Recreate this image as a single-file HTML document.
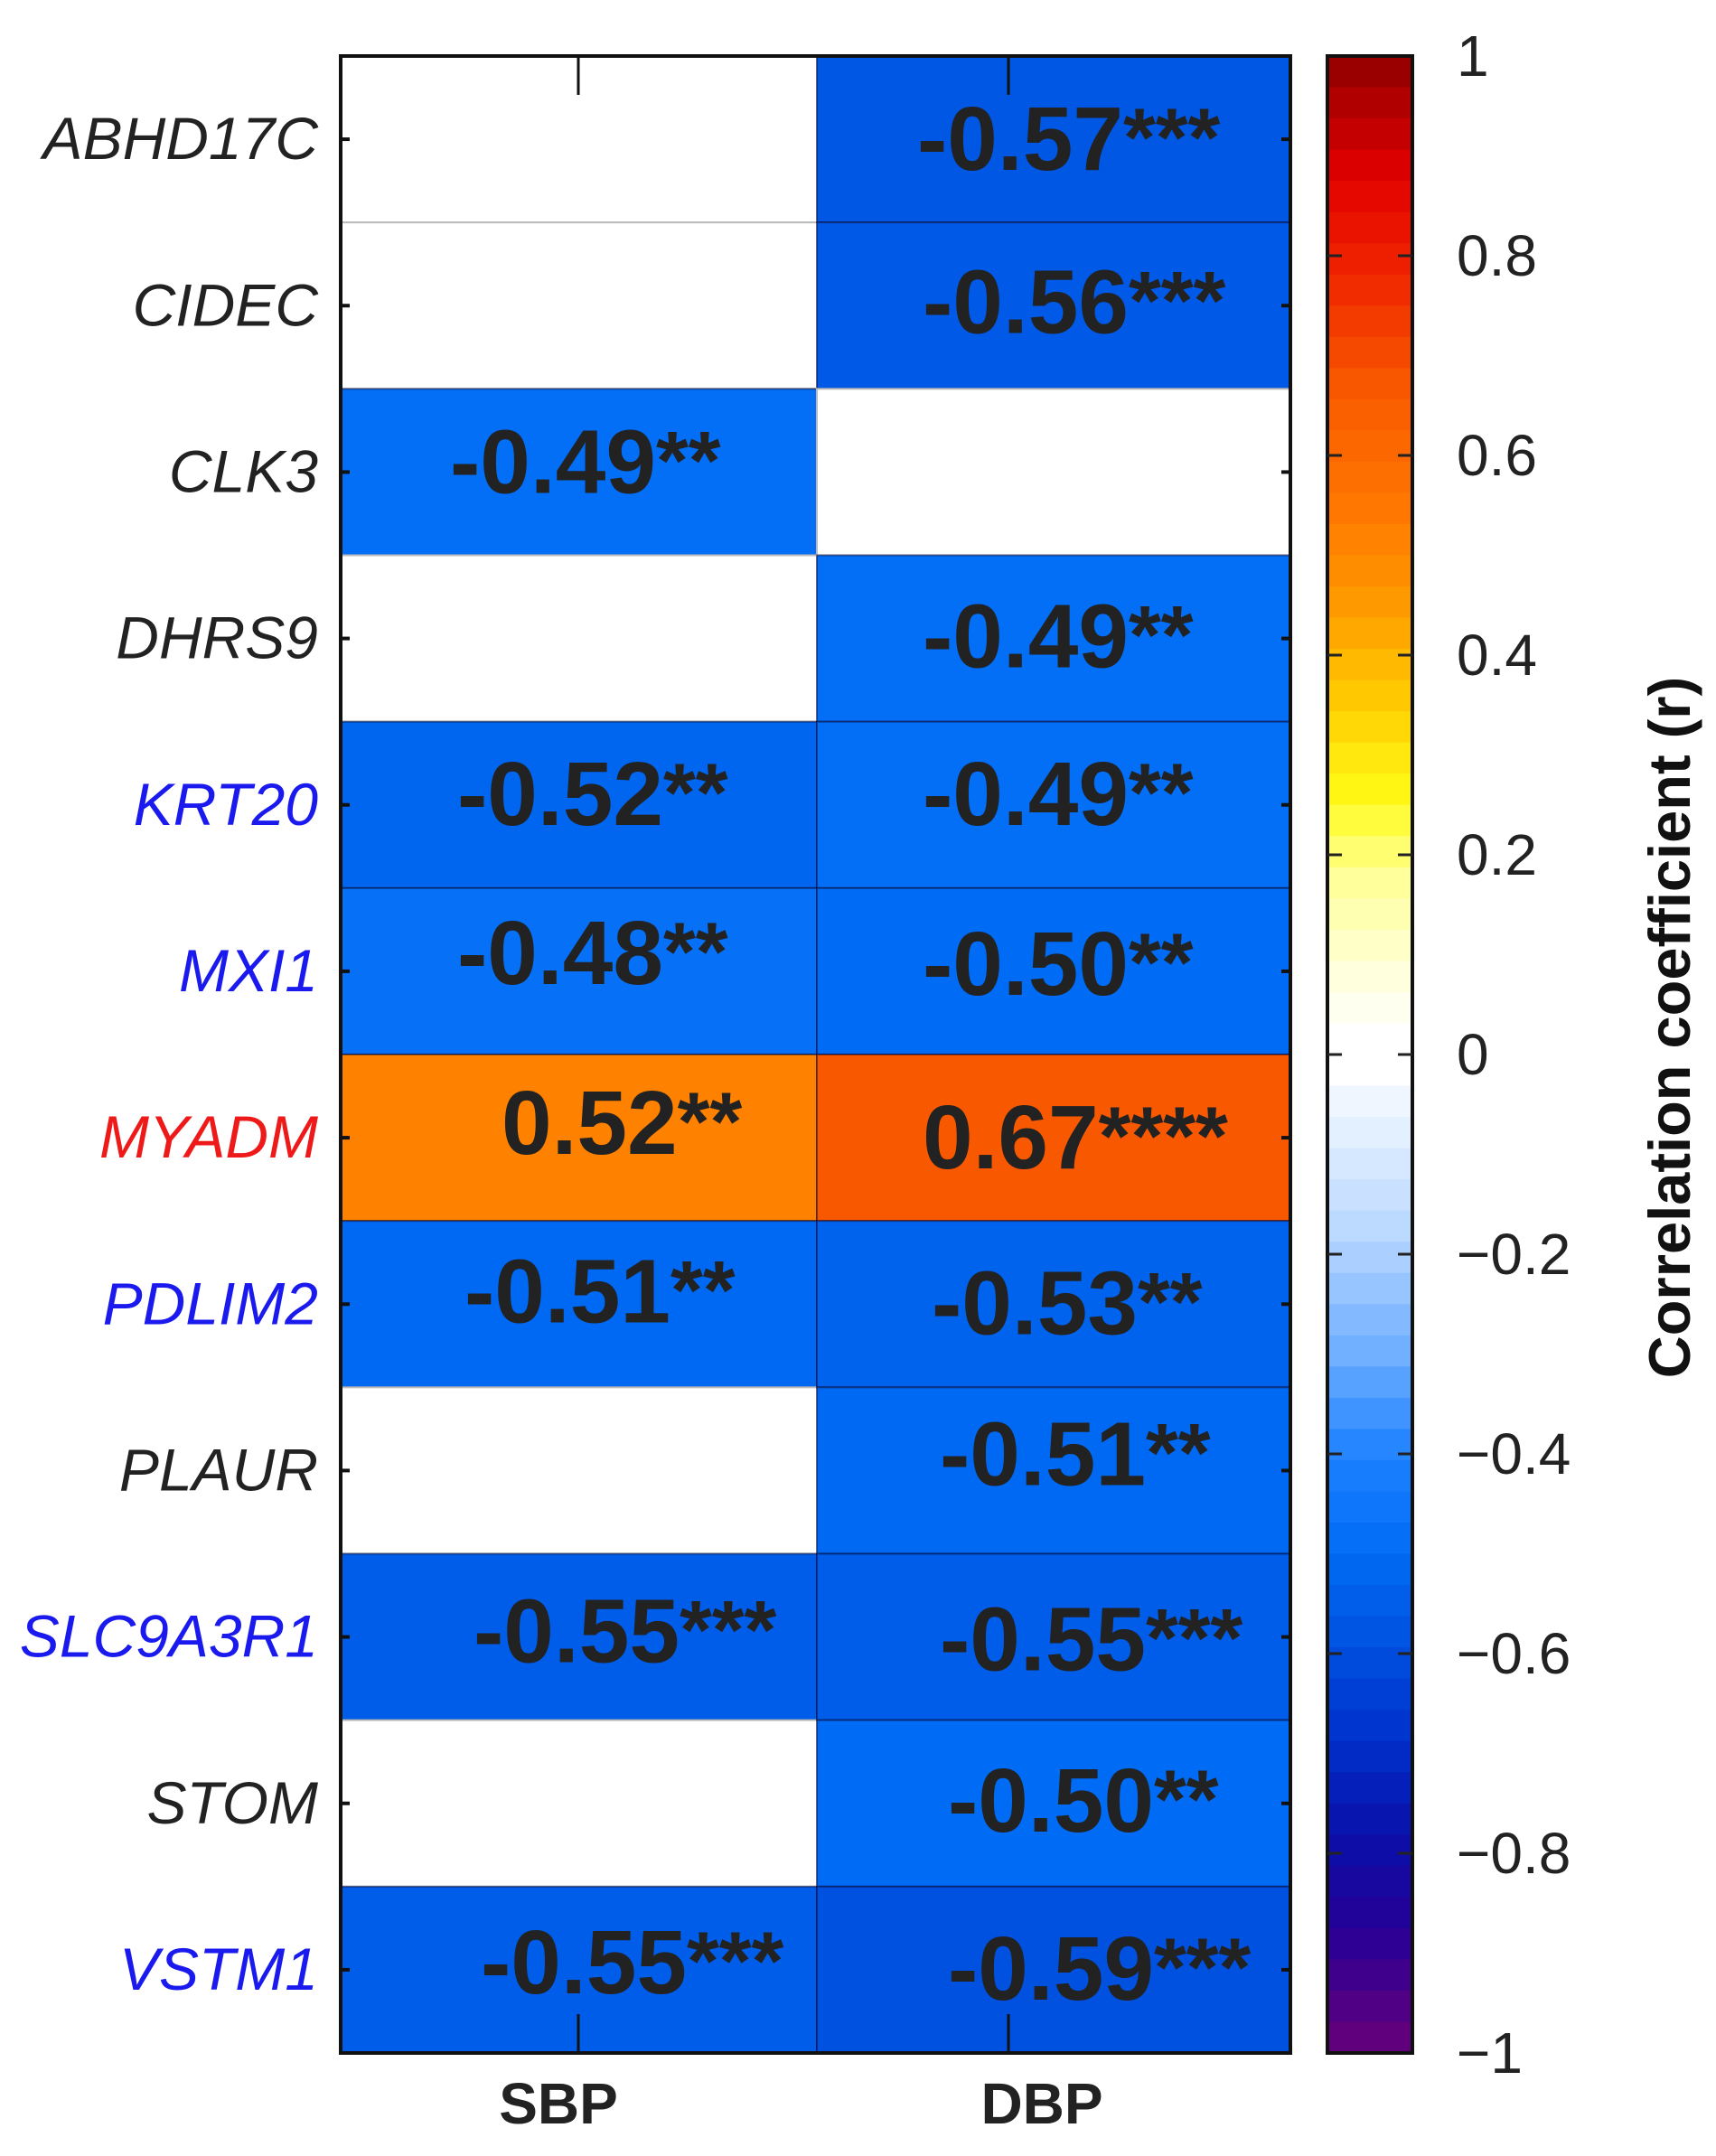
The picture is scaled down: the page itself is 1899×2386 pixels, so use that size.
<!DOCTYPE html>
<html><head><meta charset="utf-8">
<style>
html,body{margin:0;padding:0;background:#fff;}
svg{display:block;}
</style></head>
<body>
<svg id="chart" width="1899" height="2386" viewBox="0 0 1899 2386" xmlns="http://www.w3.org/2000/svg">
<g id="cells"></g>
<g id="labels"></g>
<g id="rowlabels"></g>
<g id="cbar"></g>
<text x="0" y="0" transform="translate(1870,1137) rotate(-90)" text-anchor="middle" font-family="Liberation Sans, sans-serif" font-weight="bold" font-size="65" fill="#111">Correlation coefficient (r)</text>
</svg>
<script>
const genes = ["ABHD17C","CIDEC","CLK3","DHRS9","KRT20","MXI1","MYADM","PDLIM2","PLAUR","SLC9A3R1","STOM","VSTM1"];
const geneColors = ["#222","#222","#222","#222","#1a1aee","#1a1aee","#ee1a1a","#1a1aee","#222","#1a1aee","#222","#1a1aee"];
const columns = ["SBP","DBP"];
const sbpValues = [null,null,-0.49,null,-0.52,-0.48,0.52,-0.51,null,-0.55,null,-0.55];
const dbpValues = [-0.57,-0.56,null,-0.49,-0.49,-0.50,0.67,-0.53,-0.51,-0.55,-0.50,-0.59];
const sbpStars = ["","","**","","**","**","**","**","","***","","***"];
const dbpStars = ["***","***","","**","**","**","****","**","**","***","**","***"];
const cbarTicks = [1,0.8,0.6,0.4,0.2,0,-0.2,-0.4,-0.6,-0.8,-1];

const NS = "http://www.w3.org/2000/svg";
const L = 377, R = 1428, T = 62, B = 2272, MID = 904;
const rowH = (B - T) / genes.length;
const colX = [L, MID], colW = [MID - L, R - MID];
const cbL = 1469, cbR = 1563;
// label layout offsets (pixels relative to cell left / row centre)
const sbpDx = [0,0,121,0,129,129,178,137,0,147,0,155];
const dbpDx = [111,117,0,117,117,117,117,127,136,136,145,145];
const sbpDy = [0,0,-13,0,-14,-22,-18,-16,0,-8,0,-10];
const dbpDy = [-2,-6,0,-4,-14,-10,-2,-3,-20,1,-5,-3];

function yVal(v){ return T + (1 - v) / 2 * (B - T); }
function rowY(i){ return T + i * rowH; }

const stops = [
 [-1,[106,0,120]],[-0.88,[40,0,150]],[-0.78,[10,16,170]],[-0.68,[0,50,205]],[-0.58,[0,84,226]],
 [-0.5,[0,108,245]],[-0.4,[30,130,255]],[-0.3,[110,175,255]],[-0.18,[185,215,255]],[-0.06,[235,244,255]],
 [0,[255,255,255]],[0.06,[255,255,235]],[0.18,[255,255,150]],[0.26,[255,250,20]],[0.36,[255,200,0]],
 [0.46,[255,150,0]],[0.55,[255,118,0]],[0.67,[248,88,0]],[0.8,[238,30,0]],[0.88,[225,0,0]],[1,[145,0,0]]];
function cmap(v){
  for(let i=0;i<stops.length-1;i++){
    const [a,ca]=stops[i],[b,cb]=stops[i+1];
    if(v>=a && v<=b){const t=(v-a)/(b-a);
      return "rgb("+ca.map((c,k)=>Math.round(c+(cb[k]-c)*t)).join(",")+")";}
  }
  return "#fff";
}
function mk(tag, attrs, parent){
  const e=document.createElementNS(NS,tag);
  for(const k in attrs) e.setAttribute(k,attrs[k]);
  parent.appendChild(e); return e;
}
const svg=document.getElementById("chart");
const cells=document.getElementById("cells"), labels=document.getElementById("labels"), rl=document.getElementById("rowlabels"), cbar=document.getElementById("cbar");
const series=[sbpValues,dbpValues], stars=[sbpStars,dbpStars], dxs=[sbpDx,dbpDx], dys=[sbpDy,dbpDy];

for(let c=0;c<2;c++){
  for(let i=0;i<genes.length;i++){
    const v=series[c][i];
    const r=mk("rect",{x:colX[c],y:rowY(i),width:colW[c],height:rowH,fill:v===null?"#fff":cmap(v),stroke:v===null?"#bbb":"rgba(0,0,40,0.45)","stroke-width":2},cells);
    
    
    if(v!==null){
      const t=mk("text",{x:colX[c]+dxs[c][i],y:rowY(i)+rowH/2+36+dys[c][i],"font-family":"Liberation Sans, sans-serif","font-weight":"bold","font-size":100,fill:"#222"},labels);
      
      
      const num=mk("tspan",{},t);
      num.textContent=(v<0?"-":"")+Math.abs(v).toFixed(2);
      const st=mk("tspan",{"font-size":92,dy:-4},t);
      st.textContent=stars[c][i];
    }
  }
}
for(let i=0;i<genes.length;i++){
  const cy=rowY(i)+rowH/2;
  const t=mk("text",{x:352,y:cy+22,"text-anchor":"end","font-family":"Liberation Sans, sans-serif","font-style":"italic","font-size":66,fill:geneColors[i]},rl);
  t.textContent=genes[i];
  
  
  mk("line",{x1:L,x2:L+10,y1:cy,y2:cy,stroke:"#111","stroke-width":4},svg);
  mk("line",{x1:R-10,x2:R,y1:cy,y2:cy,stroke:"#111","stroke-width":4},svg);
}
const fr=mk("rect",{x:L,y:T,width:R-L,height:B-T,fill:"none",stroke:"#111","stroke-width":4},svg);


const tickX=[640,1116], labX=[618,1153];
for(let c=0;c<2;c++){
  mk("line",{x1:tickX[c],x2:tickX[c],y1:T,y2:T+43,stroke:"#111","stroke-width":3},svg);
  mk("line",{x1:tickX[c],x2:tickX[c],y1:B-43,y2:B,stroke:"#111","stroke-width":3},svg);
  const t=mk("text",{x:labX[c],y:2350,"text-anchor":"middle","font-family":"Liberation Sans, sans-serif","font-weight":"bold","font-size":64,fill:"#222"},svg);
  t.textContent=columns[c];
  
  
}
const nBands=64, bh=(B-T)/nBands;
for(let k=0;k<nBands;k++){
  const v=1-(k+0.5)*2/nBands;
  const r=mk("rect",{x:cbL,y:T+k*bh,width:cbR-cbL,height:bh+0.6,fill:Math.abs(v)<0.03?"#fff":cmap(v)},cbar);
  
  
}
mk("rect",{x:cbL,y:T,width:cbR-cbL,height:B-T,fill:"none",stroke:"#111","stroke-width":4},cbar);
for(const v of cbarTicks){
  const y=yVal(v);
  if(v!==1 && v!==-1){
    mk("line",{x1:cbL,x2:cbL+16,y1:y,y2:y,stroke:"#222","stroke-width":3},cbar);
    mk("line",{x1:cbR-16,x2:cbR,y1:y,y2:y,stroke:"#222","stroke-width":3},cbar);
  }
  const t=mk("text",{x:1612,y:y+22,"font-family":"Liberation Sans, sans-serif","font-size":64,fill:"#222"},cbar);
  t.textContent=(v<0?"\u2212":"")+(v===0||Math.abs(v)===1?String(Math.abs(v)):Math.abs(v).toFixed(1));
  
  
}
</script>
</body></html>
